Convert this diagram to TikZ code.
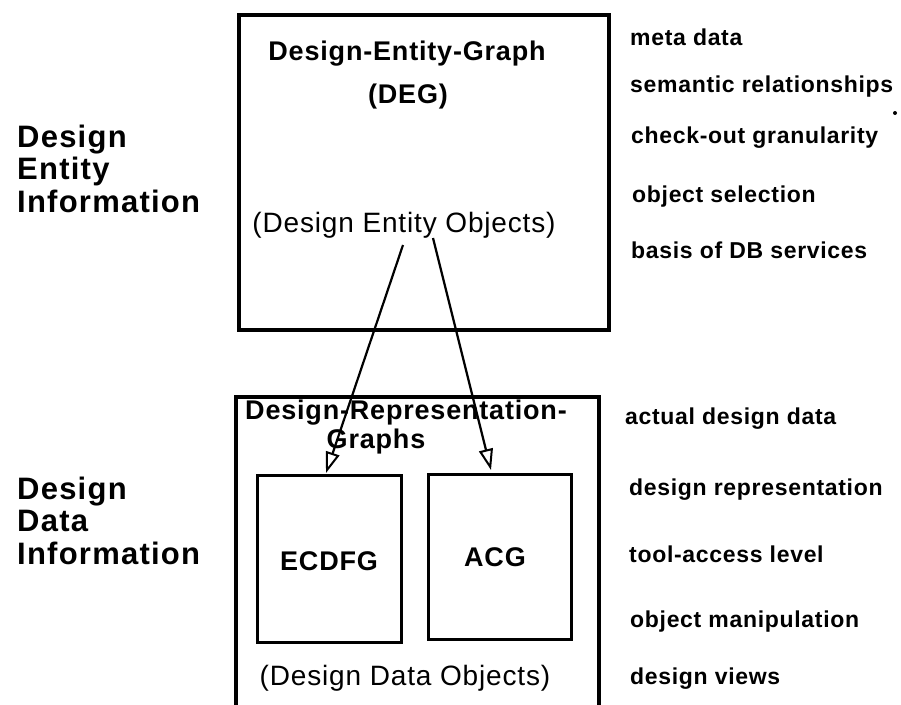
\documentclass[tikz,border=0pt]{standalone}
\usepackage{fontspec}
\setmainfont{Liberation Sans}[LetterSpace=3]
\newfontfamily\widefont{Liberation Sans}[LetterSpace=4]
\usetikzlibrary{arrows.meta}
\tikzset{
  frame/.style={draw, line width=4pt, inner sep=0pt},
  subbox/.style={draw, line width=2.5pt, inner sep=0pt},
  side/.style={anchor=base west, inner sep=0pt, font=\fontsize{23}{27}\selectfont\bfseries},
  level/.style={anchor=base west, inner sep=0pt, align=left,
                font=\widefont\fontsize{31}{32.5}\selectfont\bfseries},
  title/.style={anchor=base, inner sep=0pt, font=\fontsize{27}{30}\selectfont\bfseries},
  plain/.style={anchor=base, inner sep=0pt, font=\fontsize{28}{30}\selectfont},
  link/.style={line width=2.2pt, -{Triangle[open, length=21pt, width=14pt, line width=2pt]}}
}
\begin{document}
\begin{tikzpicture}[x=1pt, y=-1pt]
  \useasboundingbox (0,0) rectangle (901,704);

  % design entity level
  \node[frame, minimum width=370pt, minimum height=315pt, anchor=north west] (deg) at (237,13) {};
  \node[title] (degname) at (407,60) {Design-Entity-Graph};
  \node[title] (degabbr) at (408,103) {(DEG)};
  \node[plain] (deo) at (404,232) {(Design Entity Objects)};

  % design data level (runs off the lower edge)
  \node[frame, minimum width=363pt, minimum height=340pt, anchor=north west] (drg) at (234,395) {};
  \node[title] (drgname) at (406,419) {Design-Representation-};
  \node[title] (drgname2) at (376,448) {Graphs};
  \node[subbox, minimum width=144pt, minimum height=167pt, anchor=north west] (ecdfg) at (256,474) {};
  \node[subbox, minimum width=143pt, minimum height=165pt, anchor=north west] (acg) at (427,473) {};
  \node[title] (ecdfgname) at (329,570) {ECDFG};
  \node[title] (acgname) at (495,566) {ACG};
  \node[plain] (ddo) at (405,685) {(Design Data Objects)};

  % connectors from the entity objects down to the representation graphs
  \coordinate (fromL) at (403,245);
  \coordinate (fromR) at (433,238);
  \coordinate (toL) at (326,473);
  \coordinate (toR) at (491,470);
  \draw[link] (fromL) -- (toL);
  \draw[link] (fromR) -- (toR);

  % level names
  \node[level] (entinfo) at (17,212) {Design\\Entity\\Information};
  \node[level] (datinfo) at (17,564) {Design\\Data\\Information};

  % properties of each level
  \node[side] (p1) at (630,45) {meta data};
  \node[side] (p2) at (630,92) {semantic relationships};
  \node[side] (p3) at (631,143) {check-out granularity};
  \node[side] (p4) at (632,202) {object selection};
  \node[side] (p5) at (631,258) {basis of DB services};
  \fill (895,113) circle (2pt);

  \node[side] (q1) at (625,424) {actual design data};
  \node[side] (q2) at (629,495) {design representation};
  \node[side] (q3) at (629,562) {tool-access level};
  \node[side] (q4) at (630,627) {object manipulation};
  \node[side] (q5) at (630,684) {design views};
\end{tikzpicture}
\end{document}
